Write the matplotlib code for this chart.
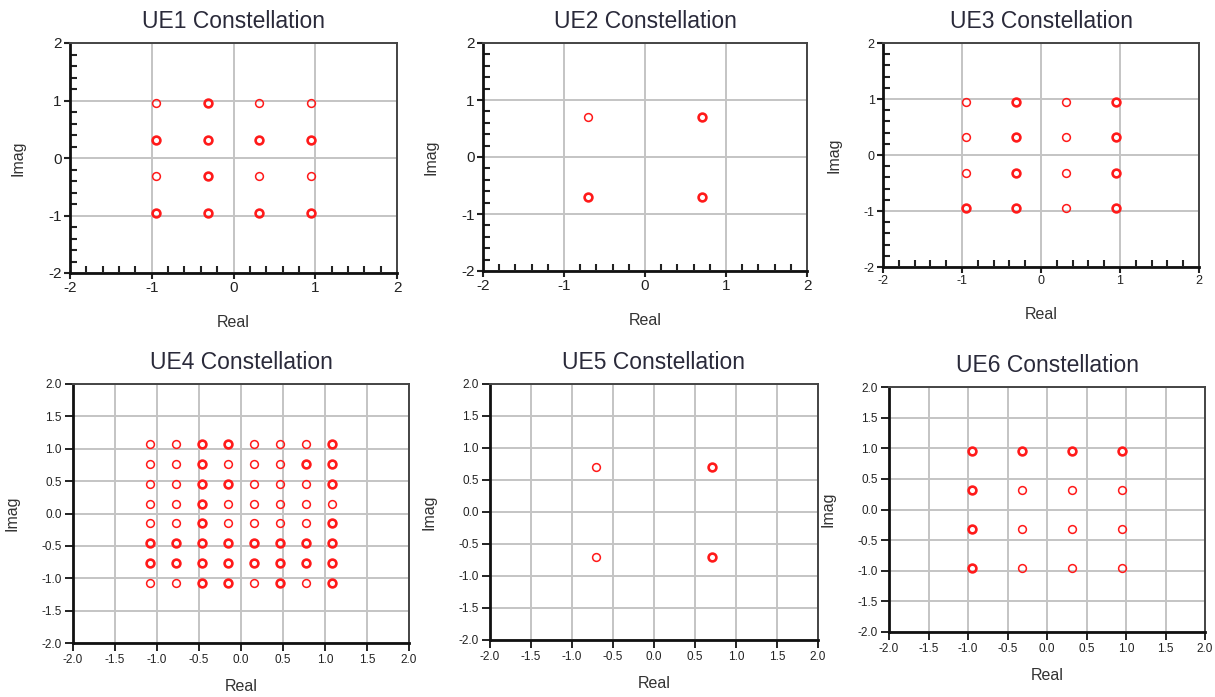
import matplotlib
matplotlib.use("Agg")
import matplotlib.pyplot as plt
import numpy as np
from matplotlib.ticker import MultipleLocator, FormatStrFormatter

plt.rcParams['font.family'] = ['Liberation Sans', 'DejaVu Sans']

# ---------------- data ----------------
qam16_levels = [-0.949, -0.316, 0.316, 0.949]
qpsk_levels = [-0.707, 0.707]
qam64_levels = [-1.08, -0.772, -0.463, -0.154, 0.154, 0.463, 0.772, 1.08]

# bold flags (1 = many overlapping samples / thicker ring), rows top->bottom, cols left->right
ue1_bold = [[0, 1, 0, 0],
            [1, 1, 1, 1],
            [0, 1, 0, 0],
            [1, 1, 1, 1]]
ue2_bold = [[0, 1],
            [1, 1]]
ue3_bold = [[0, 1, 0, 1],
            [0, 1, 0, 1],
            [0, 1, 0, 1],
            [1, 1, 0, 1]]
ue4_bold = [[0, 0, 1, 1, 0, 0, 0, 1],
            [0, 0, 1, 0, 0, 0, 1, 1],
            [0, 0, 1, 1, 0, 0, 0, 1],
            [0, 0, 1, 0, 0, 0, 0, 0],
            [0, 0, 1, 0, 0, 0, 0, 1],
            [1, 1, 1, 1, 1, 1, 1, 1],
            [1, 1, 1, 1, 1, 1, 1, 1],
            [0, 0, 1, 1, 0, 1, 0, 1]]
ue5_bold = [[0, 1],
            [0, 1]]
ue6_bold = [[1, 1, 1, 1],
            [1, 0, 0, 0],
            [1, 0, 0, 0],
            [1, 0, 0, 0]]

titles = ["UE1 Constellation", "UE2 Constellation", "UE3 Constellation",
          "UE4 Constellation", "UE5 Constellation", "UE6 Constellation"]
panel_levels = [qam16_levels, qpsk_levels, qam16_levels,
                qam64_levels, qpsk_levels, qam16_levels]
panel_bold = [ue1_bold, ue2_bold, ue3_bold, ue4_bold, ue5_bold, ue6_bold]

# axes boxes in pixels: left, top, right, bottom
boxes = [(70, 43, 397, 273), (483, 43, 807, 271), (883, 43, 1199, 267),
         (73, 384, 409, 643), (490, 384, 818, 640), (889, 387, 1205, 632)]
W, H = 1215, 697

fig = plt.figure(figsize=(W / 100, H / 100), dpi=100)
fig.patch.set_facecolor('white')

for i in range(6):
    l, t, r, b = boxes[i]
    ax = fig.add_axes([l / W, 1 - b / H, (r - l) / W, (b - t) / H])
    lv = panel_levels[i]
    bold = panel_bold[i]
    n = len(lv)
    for ri in range(n):
        yv = lv[n - 1 - ri]
        for ci in range(n):
            xv = lv[ci]
            bflag = bold[ri][ci]
            ax.plot([xv], [yv], linestyle='none', marker='o', ms=5.6,
                    mfc='none', mec='#ff1a1a', mew=1.9 if bflag else 1.1, zorder=3)
    ax.set_xlim(-2, 2)
    ax.set_ylim(-2, 2)
    ax.grid(True, color='#c4c4c4', lw=1.4, zorder=0)
    ax.set_axisbelow(True)
    for s in ['left', 'bottom']:
        ax.spines[s].set_linewidth(2.0)
        ax.spines[s].set_color('#111111')
    for s in ['top', 'right']:
        ax.spines[s].set_linewidth(1.4)
        ax.spines[s].set_color('#444444')
    if i < 3:
        ax.xaxis.set_major_locator(MultipleLocator(1))
        ax.yaxis.set_major_locator(MultipleLocator(1))
        ax.xaxis.set_minor_locator(MultipleLocator(0.2))
        ax.yaxis.set_minor_locator(MultipleLocator(0.2))
        ax.xaxis.set_major_formatter(FormatStrFormatter('%d'))
        ax.yaxis.set_major_formatter(FormatStrFormatter('%d'))
        ax.tick_params(which='major', direction='out', length=4, width=1.5,
                       labelsize=11 if i < 2 else 9, colors='#222222', pad=2)
        ax.tick_params(which='minor', direction='in', length=5, width=1.5, colors='#222222')
        ax.tick_params(which='both', top=False, right=False)
        xpad = 14
    else:
        ax.xaxis.set_major_locator(MultipleLocator(0.5))
        ax.yaxis.set_major_locator(MultipleLocator(0.5))
        ax.xaxis.set_major_formatter(FormatStrFormatter('%.1f'))
        ax.yaxis.set_major_formatter(FormatStrFormatter('%.1f'))
        ax.tick_params(which='major', direction='out', length=6, width=1.4,
                       labelsize=8.5, colors='#222222', pad=2)
        xpad = 9
    ax.set_title(titles[i], fontsize=16.5, color='#2a2a3a', pad=11)
    ax.set_xlabel('Real', fontsize=11.5, color='#333333', labelpad=xpad)
    ax.set_ylabel('Imag', fontsize=11.5, color='#333333', labelpad=16)

fig.savefig('out.png', dpi=100, facecolor='white')
